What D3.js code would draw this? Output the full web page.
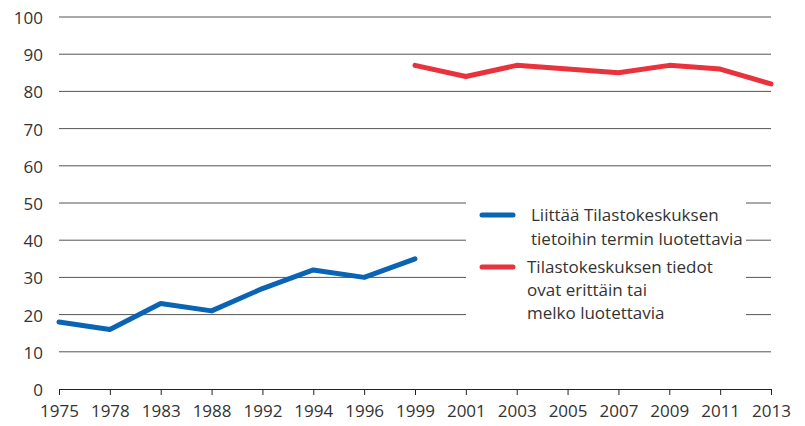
<!DOCTYPE html>
<html>
<head>
<meta charset="utf-8">
<script src="https://d3js.org/d3.v7.min.js"></script>
<style>
  body { margin:0; background:#fff; }
  text { font-family:"Open Sans", sans-serif; fill:#333; }
</style>
</head>
<body>
<svg id="chart" width="805" height="426"></svg>
<script>
"use strict";

const years = ["1975","1978","1983","1988","1992","1994","1996","1999","2001","2003","2005","2007","2009","2011","2013"];
const blueYears = ["1975","1978","1983","1988","1992","1994","1996","1999"];
const blueValues = [18, 16, 23, 21, 27, 32, 30, 35];
const redYears = ["1999","2001","2003","2005","2007","2009","2011","2013"];
const redValues = [87, 84, 87, 86, 85, 87, 86, 82];
const yTicks = [0,10,20,30,40,50,60,70,80,90,100];
const legendBlue = ["Liittää Tilastokeskuksen", "tietoihin termin luotettavia"];
const legendRed = ["Tilastokeskuksen tiedot", "ovat erittäin tai", "melko luotettavia"];

const svg = d3.select("#chart");
const x = d3.scalePoint().domain(years).range([59, 771]);
const y = d3.scaleLinear().domain([0, 100]).range([389, 17]);

// gridlines
svg.append("g").selectAll("line")
  .data(yTicks.filter(d => d > 0))
  .enter().append("line")
  .attr("x1", 59).attr("x2", 771)
  .attr("y1", d => y(d)).attr("y2", d => y(d))
  .attr("stroke", "#555").attr("stroke-width", 1);

// y labels
svg.append("g").selectAll("text")
  .data(yTicks)
  .enter().append("text")
  .attr("x", 43).attr("y", d => y(d) + 7)
  .attr("text-anchor", "end")
  .attr("font-size", "17px")
  .text(d => d);

// x axis
const xAxis = svg.append("g").attr("transform", "translate(0,389)")
  .call(d3.axisBottom(x).tickSize(6).tickPadding(10));
xAxis.select(".domain").attr("stroke", "#222").attr("d", "M59,0.5H771");
xAxis.selectAll(".tick line").attr("stroke", "#222");
xAxis.selectAll("text").attr("font-size", "17px").attr("font-family", "Open Sans, sans-serif").attr("fill", "#333");

const line = d3.line().x(d => x(d[0])).y(d => y(d[1]));

svg.append("path")
  .datum(d3.zip(blueYears, blueValues))
  .attr("d", line).attr("fill", "none")
  .attr("stroke", "#0a64b4").attr("stroke-width", 5)
  .attr("stroke-linecap", "round").attr("stroke-linejoin", "round");

svg.append("path")
  .datum(d3.zip(redYears, redValues))
  .attr("d", line).attr("fill", "none")
  .attr("stroke", "#e8333c").attr("stroke-width", 5)
  .attr("stroke-linecap", "round").attr("stroke-linejoin", "round");

// legend
const lg = svg.append("g");
lg.append("rect").attr("x", 466).attr("y", 200).attr("width", 280).attr("height", 127).attr("fill", "#fff");
lg.append("line").attr("x1", 482).attr("x2", 513).attr("y1", 215).attr("y2", 215)
  .attr("stroke", "#0a64b4").attr("stroke-width", 5).attr("stroke-linecap", "round");
lg.append("line").attr("x1", 482).attr("x2", 513).attr("y1", 267).attr("y2", 267)
  .attr("stroke", "#e8333c").attr("stroke-width", 5).attr("stroke-linecap", "round");
lg.selectAll("text.b").data(legendBlue).enter().append("text")
  .attr("x", 531).attr("y", (d, i) => 221 + i * 24)
  .attr("font-size", "17px").text(d => d);
lg.selectAll("text.r").data(legendRed).enter().append("text")
  .attr("x", 527).attr("y", (d, i) => 273 + i * 23)
  .attr("font-size", "17px").text(d => d);
</script>
</body>
</html>
